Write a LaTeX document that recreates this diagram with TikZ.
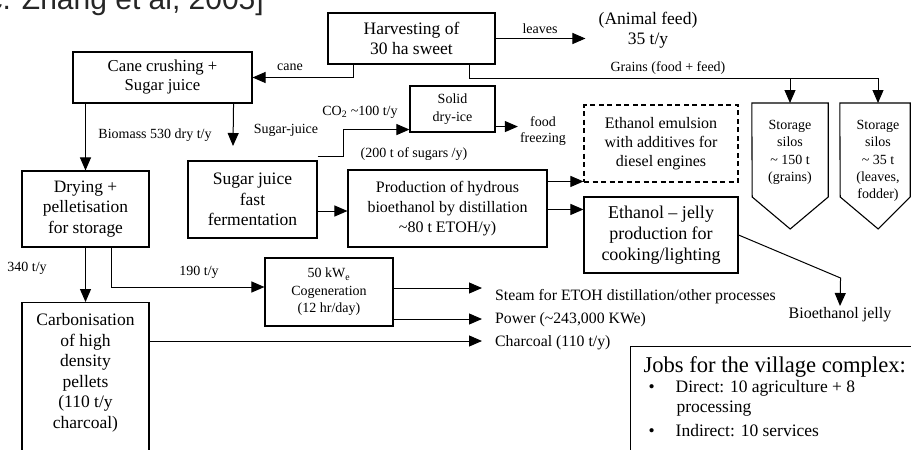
\documentclass[tikz,border=0pt]{standalone}
\usepackage{fontspec}
\setmainfont{Liberation Serif}
\newfontfamily\citefont{Liberation Sans}
\usetikzlibrary{arrows.meta,positioning}

\begin{document}
\begin{tikzpicture}[x=1pt,y=-1pt,>={Triangle[length=13pt,width=11pt]},
  box/.style={draw,line width=1.1pt,align=center,inner sep=0pt},
  lbl/.style={inner sep=0pt,align=center,font=\fontsize{14}{16.5}\selectfont},
  outlbl/.style={anchor=west,inner xsep=13pt,inner ysep=0pt,font=\fontsize{15.8}{18}\selectfont},
  silotxt/.style={anchor=north,inner xsep=0pt,inner ysep=17pt,minimum width=76pt,align=center,font=\fontsize{14}{17.3}\selectfont},
  flow/.style={->,line width=1pt}]
  \useasboundingbox (0,0) rectangle (911,450);
  \node[anchor=base east,inner sep=0pt,font=\citefont\fontsize{30}{30}\selectfont,black!85] (cite) at (264,9) {c. Zhang et al, 2005]};

  % process boxes
  \node[box,minimum width=167pt,minimum height=51pt,font=\fontsize{17.5}{20}\selectfont] (harv) at (411.5,38.5) {Harvesting of\\30 ha sweet};
  \node[box,minimum width=179pt,minimum height=51pt,font=\fontsize{16.7}{19}\selectfont] (crush) at (162.5,77.5) {Cane crushing +\\Sugar juice};
  \node[box,minimum width=85pt,minimum height=46pt,font=\fontsize{14}{18}\selectfont] (dryice) at (452.5,109) {Solid\\dry-ice};
  \node[box,dash pattern=on 5pt off 3.5pt,minimum width=154pt,minimum height=77pt,font=\fontsize{16}{19}\selectfont] (emul) at (661,143.5) {Ethanol emulsion\\with additives for\\diesel engines};
  \node[box,minimum width=127pt,minimum height=76pt,font=\fontsize{17.4}{20.5}\selectfont] (dry) at (85.5,209) {Drying +\\pelletisation\\for storage};
  \node[box,minimum width=129pt,minimum height=77pt,font=\fontsize{17.5}{20.5}\selectfont] (ferm) at (252.5,199.5) {Sugar juice\\fast\\fermentation};
  \node[box,minimum width=199pt,minimum height=77pt,font=\fontsize{16}{20}\selectfont] (prod) at (447.5,208.5) {Production of hydrous\\bioethanol by distillation\\\textasciitilde80 t ETOH/y)};
  \node[box,minimum width=154pt,minimum height=76pt,font=\fontsize{18}{21}\selectfont] (jelly) at (661,235) {Ethanol -- jelly\\production for\\cooking/lighting};
  \node[box,minimum width=128pt,minimum height=68pt,font=\fontsize{14}{17.5}\selectfont] (cog) at (329,292) {50 kW\textsubscript{e}\\Cogeneration\\(12 hr/day)};
  \node[box,anchor=north,minimum width=127pt,inner ysep=11pt,font=\fontsize{17.5}{20.5}\selectfont] (carb) at (85.5,302) {Carbonisation\\of high\\density\\pellets\\(110 t/y\\charcoal)\rule[-60pt]{0pt}{60pt}};

  % storage silos
  \node[silotxt] (silo1) at (790,103) {Storage\\silos\\\textasciitilde{} 150 t\\(grains)};
  \node[silotxt] (silo2) at (878,103) {Storage\\silos\\\textasciitilde{} 35 t\\(leaves,\\fodder)};
  \draw[line width=1.1pt] (silo1.north west) -- (silo1.north east) -- ++(0,94) -- ++(-38,32) -- ++(-38,-32) -- cycle;
  \draw[line width=1.1pt] (silo2.north west) -- ([xshift=-6pt]silo2.north east) -- ++(0,94) -- ++(-32,32) -- ++(-38,-32) -- cycle;

  % products and labels
  \node[inner xsep=13pt,inner ysep=0pt,align=center,font=\fontsize{17.5}{20}\selectfont] (feed) at (648,30) {(Animal feed)\\35 t/y};
  \node[lbl,inner xsep=2pt] (food) at (543,131) {food\\freezing};
  \node[anchor=north,inner sep=1pt,font=\fontsize{16}{18}\selectfont] (bjelly) at (840,306) {Bioethanol jelly};
  \node[outlbl] (steam) at (482,297) {Steam for ETOH distillation/other processes};
  \node[outlbl] (power) at (482,320) {Power (\textasciitilde243,000 KWe)};
  \node[outlbl] (charcoal) at (482,343) {Charcoal (110 t/y)};
  \node[lbl] (canelbl) at (290,67) {cane};
  \node[lbl] (leaveslbl) at (540,29) {leaves};
  \node[lbl] (grainslbl) at (668,68) {Grains (food + feed)};
  \node[lbl] (biolbl) at (155,135) {Biomass 530 dry t/y};
  \node[lbl] (sjlbl) at (286,130) {Sugar-juice};
  \node[lbl] (co2lbl) at (360,112) {CO\textsubscript{2} \textasciitilde100 t/y};
  \node[lbl] (sugarlbl) at (414,154) {(200 t of sugars /y)};
  \node[lbl] (pellbl) at (27,268) {340 t/y};
  \node[lbl] (coglbl) at (199,272) {190 t/y};

  % jobs
  \node[box,anchor=north west,align=left,inner xsep=13pt,inner ysep=10pt,font=\fontsize{17.5}{19.5}\selectfont] (jobs) at (630,346)
    {{\fontsize{22.6}{24}\selectfont Jobs for the village complex:}\\[1pt]
     \hspace*{5pt}\textbullet\hspace{21pt}Direct: 10 agriculture + 8\\
     \hspace*{33pt}processing\\[4.5pt]
     \hspace*{5pt}\textbullet\hspace{21pt}Indirect: 10 services\rule[-60pt]{0pt}{60pt}};

  % connectors
  \coordinate (grain) at ([xshift=142pt]harv.south west);
  \coordinate (grainjoin) at ([yshift=-14pt]grain);
  \coordinate (sjend) at (233,146);
  \coordinate (fz) at ([yshift=6pt]dryice.south east);
  \coordinate (fm) at ([yshift=-11.5pt]ferm.east);
  \coordinate (pe1) at ([yshift=-12pt]prod.north east);
  \coordinate (pe2) at ([yshift=-40pt]prod.north east);
  \coordinate (ds) at ([xshift=25.5pt]dry.south);
  \coordinate (cg1) at ([yshift=4pt]cog.east);
  \coordinate (cg2) at ([yshift=-27pt]cog.east);
  \coordinate (cb) at ([yshift=-39pt]carb.north east);
  \draw[flow] ([xshift=26pt]harv.south west) |- (crush.east);
  \draw[flow] (harv.east) -- (harv.east -| feed.west);
  \draw[flow] (grain) -- (grainjoin) -| (silo2.north);
  \draw[flow] (grainjoin -| silo1.north) -- (silo1.north);
  \draw[flow] (crush.south -| dry.north) -- (dry.north);
  \draw[flow] ([xshift=-19pt]crush.south east) -- (sjend);
  \draw[flow] ([yshift=4pt]ferm.north east) -- ++(26,0) |- ([yshift=3pt]dryice.south west);
  \draw[flow] (fz) -- (fz -| food.west);
  \draw[flow] (fm) -- (fm -| prod.west);
  \draw[flow] (pe1) -- (pe1 -| emul.west);
  \draw[flow] (pe2) -- (pe2 -| jelly.west);
  \draw[flow] (jelly.east) -- ++(102,43) -- (bjelly.north);
  \draw[flow] (dry.south) -- (carb.north);
  \draw[flow] (ds) |- ([yshift=5pt]cog.west);
  \draw[flow] (cg1) -- (cg1 -| steam.west);
  \draw[flow] (cg2) -- (cg2 -| power.west);
  \draw[flow] (cb) -- (cb -| charcoal.west);
\end{tikzpicture}
\end{document}
